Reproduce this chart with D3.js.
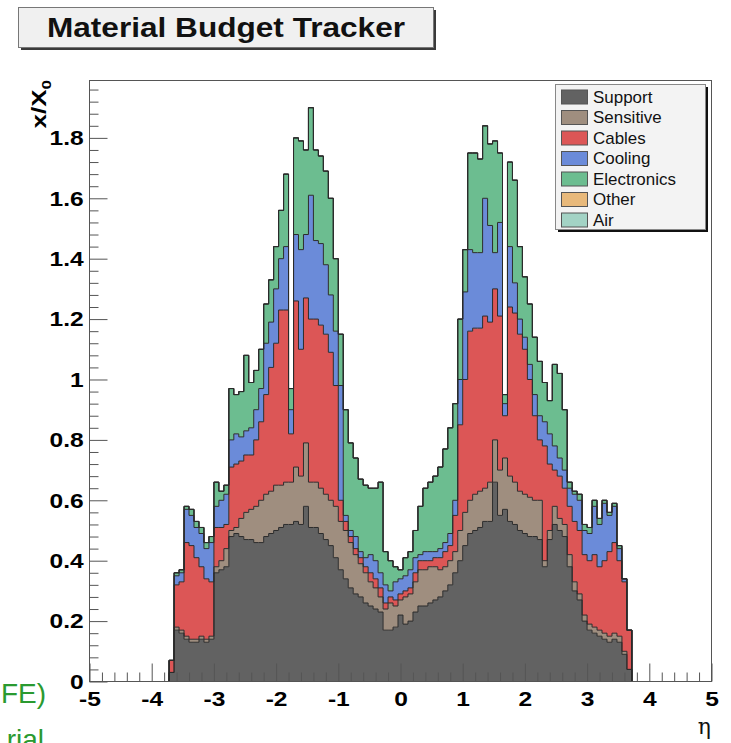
<!DOCTYPE html>
<html>
<head>
<meta charset="utf-8">
<script src="https://cdn.jsdelivr.net/npm/d3@7"></script>
<style>
  html, body { margin: 0; padding: 0; background: #fff; }
  svg { display: block; }
</style>
</head>
<body>
<script>
// ---------------- DATA ----------------
const binStart = -3.72;   // eta of first filled bin's lower edge
const binWidth = 0.08;    // eta bin width

const support = [
  .03,.17,.16,.14,.13,.13,.14,.13,.14,.36,
  .37,.38,.48,.49,.48,.47,.47,.46,.46,.48,
  .49,.50,.51,.52,.52,.53,.52,.58,.51,.51,
  .49,.47,.45,.41,.37,.34,.31,.29,.28,.26,
  .25,.24,.23,.17,.17,.18,.22,.19,.20,.23,
  .25,.25,.26,.27,.28,.30,.32,.36,.40,.45,
  .49,.50,.51,.53,.53,.66,.55,.57,.53,.52,
  .50,.49,.48,.48,.47,.38,.47,.52,.50,.48,
  .38,.30,.27,.20,.17,.16,.15,.14,.13,.14,
  .13,.09,.04];
const sensitive = [
  0,.01,.01,.01,.01,.01,.01,.01,.01,.02,
  .03,.06,.02,.02,.06,.09,.10,.12,.14,.14,
  .14,.15,.14,.14,.14,.18,.16,.21,.15,.15,
  .15,.15,.15,.17,.16,.16,.15,.13,.11,.10,
  .08,.07,.05,.07,.09,.07,.05,.09,.09,.10,
  .12,.12,.12,.11,.09,.08,.08,.07,.10,.11,
  .11,.12,.12,.11,.13,.14,.15,.17,.15,.14,
  .13,.13,.13,.12,.13,.02,.03,.06,.04,.04,
  .04,.03,.02,.02,.02,.02,.02,.02,.02,.02,
  .02,.01,0];
const cables = [
  .04,.14,.16,.31,.31,.27,.23,.20,.18,.13,
  .11,.08,.21,.21,.19,.19,.18,.22,.26,.33,
  .41,.47,.58,.57,.16,.55,.42,.48,.54,.54,
  .54,.53,.49,.40,.07,.03,.02,.02,.02,.02,
  .03,.03,.03,.02,.02,.02,.02,.02,.02,.03,
  .03,.03,.02,.03,.04,.05,.05,.12,.35,.44,
  .56,.55,.54,.57,.53,.50,.51,.14,.56,.56,
  .52,.48,.39,.28,.20,.38,.22,.12,.14,.12,
  .16,.20,.21,.20,.21,.24,.21,.24,.28,.30,
  .25,.23,.13];
const cooling = [
  0,.03,.03,.11,.10,.10,.11,.10,.13,.07,
  .09,.10,.09,.10,.08,.08,.09,.10,.11,.17,
  .15,.18,.17,.21,.08,.22,.33,.21,.41,.26,
  .27,.23,.19,.18,.38,.02,.02,.04,.02,.03,
  .06,.06,.05,.06,.02,.06,.05,.05,.06,.05,
  .02,.03,.03,.02,.03,.03,.04,.05,.15,.29,
  .27,.25,.25,.39,.32,.12,.31,.04,.20,.10,
  .05,.04,.05,.07,.08,.08,.10,.08,.06,.06,
  .06,.09,.10,.08,.09,.16,.14,.19,.12,.12,
  .04,.01,0];
const electronics = [
  0,.01,.01,.01,.02,.02,.02,.02,.02,.08,
  .03,.03,.17,.13,.15,.25,.15,.13,.13,.13,
  .14,.14,.16,.24,.07,.32,.36,.28,.29,.30,
  .29,.31,.32,.24,.17,.35,.29,.26,.24,.24,
  .22,.24,.30,.11,.10,.05,.03,.06,.06,.09,
  .16,.21,.23,.25,.27,.31,.35,.32,.20,.14,
  .32,.33,.31,.24,.27,.37,.23,.03,.28,.34,
  .24,.20,.20,.19,.18,.13,.11,.27,.28,.20,
  .02,.01,.02,.02,.02,.02,.02,.01,.01,.01,
  .01,0,0];
const other = [
  0,0,0,0,0,0,0,0,0,0, 0,0,0,0,0,0,0,0,0,0,
  0,0,0,0,0,0,0,0,0,0, 0,0,0,0,0,0,0,0,0,0,
  0,0,0,0,0,0,0,0,0,0, 0,0,0,0,0,0,0,0,0,0,
  0,0,0,0,0,0,0,0,0,0, 0,0,0,0,0,0,0,0,0,0,
  0,0,0,0,0,0,0,0,0,0, 0,0,0];
const air = [
  0,0,0,0,0,0,0,0,0,0, 0,0,0,0,0,0,0,0,0,0,
  0,0,0,0,0,0,0,0,0,0, 0,0,0,0,0,0,0,0,0,0,
  0,0,0,0,0,0,0,0,0,0, 0,0,0,0,0,0,0,0,0,0,
  0,0,0,0,0,0,0,0,0,0, 0,0,0,0,0,0,0,0,0,0,
  0,0,0,0,0,0,0,0,0,0, 0,0,0];

const seriesNames  = ["Support", "Sensitive", "Cables", "Cooling", "Electronics", "Other", "Air"];
const seriesValues = [support, sensitive, cables, cooling, electronics, other, air];
const seriesColors = ["#626262", "#9f8e7f", "#dc5656", "#6b8bd9", "#6cbd90", "#e8b97b", "#a3d3c5"];

const xTickLabels = [-5, -4, -3, -2, -1, 0, 1, 2, 3, 4, 5];
const yTickLabels = [0, 0.2, 0.4, 0.6, 0.8, 1, 1.2, 1.4, 1.6, 1.8];

const titleText = "Material Budget Tracker";
const xTitle = "\u03B7";
const yTitleMain = "x/X";
const yTitleSub = "0";

// ---------------- LAYOUT ----------------
const W = 731, H = 743;
const frame = { left: 89.5, right: 711.5, top: 80.5, bottom: 681.5 };
const FONT = "'Liberation Sans', Arial, Helvetica, sans-serif";
const STRETCH = 1.17;  // horizontal stretch of the ROOT text

const svg = d3.select("body").append("svg").attr("width", W).attr("height", H);
svg.append("rect").attr("width", W).attr("height", H).attr("fill", "#fff");

const x = d3.scaleLinear().domain([-5, 5]).range([frame.left, frame.right]);
const y = d3.scaleLinear().domain([0, 1.99]).range([frame.bottom, frame.top]);

// ---------------- STACK ----------------
const rows = support.map((_, i) => {
  const r = { i };
  seriesNames.forEach((n, k) => r[n] = seriesValues[k][i]);
  return r;
});
const stacked = d3.stack().keys(seriesNames)(rows);

function stepPoints(layer) {
  const pts = [];
  layer.forEach((d, i) => {
    const e0 = binStart + i * binWidth, e1 = e0 + binWidth;
    pts.push({ e: e0, y0: d[0], y1: d[1] }, { e: e1, y0: d[0], y1: d[1] });
  });
  return pts;
}

const area = d3.area().x(p => x(p.e)).y0(p => y(p.y0)).y1(p => y(p.y1));
const line = d3.line().x(p => x(p.e)).y(p => y(p.v));

const gPlot = svg.append("g");
stacked.forEach((layer, k) => {
  gPlot.append("path")
    .attr("d", area(stepPoints(layer)))
    .attr("fill", seriesColors[k])
    .attr("stroke", "none");
});
stacked.slice().reverse().forEach(layer => {
  const pts = stepPoints(layer);
  const outline = [{ e: pts[0].e, v: 0 }]
    .concat(pts.map(p => ({ e: p.e, v: p.y1 })))
    .concat([{ e: pts[pts.length - 1].e, v: 0 }]);
  gPlot.append("path")
    .attr("d", line(outline))
    .attr("fill", "none")
    .attr("stroke", "#2b2b2b")
    .attr("stroke-width", 1);
});

// ---------------- FRAME & AXES ----------------
svg.append("rect")
  .attr("x", frame.left).attr("y", frame.top)
  .attr("width", frame.right - frame.left).attr("height", frame.bottom - frame.top)
  .attr("fill", "none").attr("stroke", "#555").attr("stroke-width", 1);

const xMinor = d3.range(-5, 5.0001, 0.2).filter(v => Math.abs(v - Math.round(v)) > 1e-6);
const yMinor = d3.range(0, 1.99, 0.04).filter(v => Math.abs(v * 5 - Math.round(v * 5)) > 1e-6);

const gxMinor = svg.append("g").attr("transform", `translate(0,${frame.bottom})`)
  .call(d3.axisBottom(x).tickValues(xMinor).tickSizeInner(-9).tickSizeOuter(0).tickFormat(""));
const gx = svg.append("g").attr("transform", `translate(0,${frame.bottom})`)
  .call(d3.axisBottom(x).tickValues(xTickLabels).tickSizeInner(-18).tickSizeOuter(0)
    .tickPadding(10).tickFormat(d => String(d)));
const gyMinor = svg.append("g").attr("transform", `translate(${frame.left},0)`)
  .call(d3.axisLeft(y).tickValues(yMinor).tickSizeInner(-9).tickSizeOuter(0).tickFormat(""));
const gy = svg.append("g").attr("transform", `translate(${frame.left},0)`)
  .call(d3.axisLeft(y).tickValues(yTickLabels).tickSizeInner(-18).tickSizeOuter(0)
    .tickPadding(5).tickFormat(d => String(+d.toFixed(1))));

[gxMinor, gx, gyMinor, gy].forEach(g => {
  g.select(".domain").remove();
  g.selectAll("line").attr("stroke", "#555");
  g.attr("font-family", FONT).attr("font-size", 21).attr("font-weight", "bold");
  g.selectAll("text").attr("fill", "#000").attr("transform", `scale(${STRETCH},1)`);
});

// axis titles
svg.append("text")
  .attr("x", 711).attr("y", 734)
  .attr("text-anchor", "end")
  .attr("font-family", "'DejaVu Serif', 'Liberation Serif', serif")
  .attr("font-size", 22).attr("fill", "#111")
  .text(xTitle);

const yt = svg.append("text")
  .attr("transform", "translate(46,80) rotate(-90) scale(1.3,1)")
  .attr("text-anchor", "end")
  .attr("font-family", FONT).attr("font-size", 20).attr("font-weight", "bold").attr("fill", "#000");
yt.append("tspan").text(yTitleMain);
yt.append("tspan").attr("dy", 5).attr("font-size", 13).text(yTitleSub);

// ---------------- TITLE BOX ----------------
svg.append("rect").attr("x", 21).attr("y", 10).attr("width", 415).attr("height", 40).attr("fill", "#3a3a3a");
svg.append("rect").attr("x", 18.5).attr("y", 7.5).attr("width", 415).attr("height", 40)
  .attr("fill", "#f0f0f0").attr("stroke", "#777").attr("stroke-width", 1);
svg.append("text")
  .attr("transform", `translate(226,37) scale(${STRETCH},1)`)
  .attr("text-anchor", "middle")
  .attr("font-family", FONT).attr("font-size", 27).attr("font-weight", "bold").attr("fill", "#111")
  .text(titleText);

// ---------------- LEGEND ----------------
const lg = svg.append("g");
lg.append("rect").attr("x", 558).attr("y", 87).attr("width", 150).attr("height", 145).attr("fill", "#111");
lg.append("rect").attr("x", 555.5).attr("y", 84.5).attr("width", 150).attr("height", 145)
  .attr("fill", "#f3f3f3").attr("stroke", "#888").attr("stroke-width", 1);
seriesNames.forEach((n, k) => {
  const cy = 97 + k * 20.5;
  lg.append("rect").attr("x", 561.5).attr("y", cy - 7).attr("width", 26).attr("height", 14)
    .attr("fill", seriesColors[k]).attr("stroke", "#555").attr("stroke-width", 1);
  lg.append("text")
    .attr("transform", `translate(593,${cy + 5.5}) scale(1.06,1)`)
    .attr("font-family", FONT).attr("font-size", 16).attr("fill", "#111")
    .text(n);
});

// ---------------- SLIDE REMNANT TEXT (bottom-left) ----------------
svg.append("text").attr("x", 46).attr("y", 703).attr("text-anchor", "end")
  .attr("font-family", FONT).attr("font-size", 28).attr("fill", "#2a9a30").text("FE)");
svg.append("text").attr("x", 44).attr("y", 749).attr("text-anchor", "end")
  .attr("font-family", FONT).attr("font-size", 28).attr("fill", "#2a9a30").text("rial");
</script>
</body>
</html>
